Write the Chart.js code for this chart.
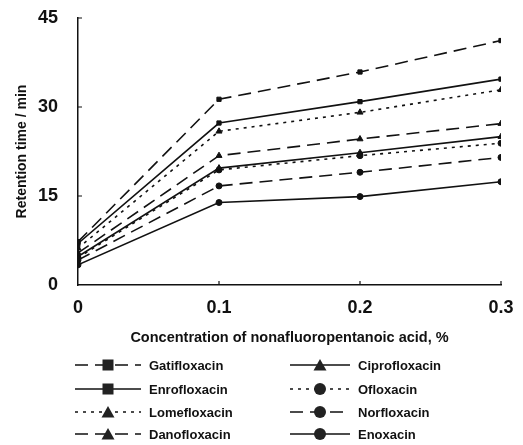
<!DOCTYPE html>
<html>
<head>
<meta charset="utf-8">
<script src="https://cdn.jsdelivr.net/npm/chart.js@4"></script>
<style>
  html, body { margin: 0; padding: 0; background: #fff; }
  #wrap { position: relative; width: 523px; height: 445px; }
  #legend { position: absolute; left: 0; top: 0; width: 523px; height: 445px; pointer-events: none;
    font-family: "Liberation Sans", Arial, sans-serif; font-weight: bold; font-size: 13px; color: #111; }
  .item { position: absolute; height: 20px; display: flex; align-items: center; }
  .item svg { display: block; }
  .item span { margin-left: 8px; }
</style>
</head>
<body>
<div id="wrap">
  <canvas id="chart" width="523" height="445"></canvas>
  <div id="legend"></div>
</div>
<script>
const concentrations = [0, 0.1, 0.2, 0.3];
const xTicks = [0, 0.1, 0.2, 0.3];
const yTicks = [0, 15, 30, 45];

const gatifloxacin = [7.3, 31.3, 35.9, 41.2];
const enrofloxacin = [7.0, 27.3, 30.9, 34.7];
const lomefloxacin = [6.2, 25.9, 29.1, 32.9];
const danofloxacin = [5.4, 21.8, 24.6, 27.2];
const ciprofloxacin = [4.8, 19.7, 22.3, 25.0];
const ofloxacin = [4.6, 19.4, 21.8, 23.9];
const norfloxacin = [4.2, 16.7, 19.0, 21.5];
const enoxacin = [3.4, 13.9, 14.9, 17.4];

const DASHED = [13, 7];
const DOTTED = [3, 5];
const SOLID = [];

function series(label, values, dash, point) {
  return {
    label,
    data: values.map((v, i) => ({ x: concentrations[i], y: v })),
    borderColor: '#111',
    backgroundColor: '#111',
    borderWidth: 1.6,
    borderDash: dash,
    pointStyle: point,
    pointRadius: point === 'triangle' ? 3.5 : 3,
    pointBorderWidth: 1,
    tension: 0,
  };
}

const datasets = [
  series('Gatifloxacin', gatifloxacin, DASHED, 'rect'),
  series('Enrofloxacin', enrofloxacin, SOLID, 'rect'),
  series('Lomefloxacin', lomefloxacin, DOTTED, 'triangle'),
  series('Danofloxacin', danofloxacin, DASHED, 'triangle'),
  series('Ciprofloxacin', ciprofloxacin, SOLID, 'triangle'),
  series('Ofloxacin', ofloxacin, DOTTED, 'circle'),
  series('Norfloxacin', norfloxacin, DASHED, 'circle'),
  series('Enoxacin', enoxacin, SOLID, 'circle'),
];

const boldFont = { family: '"Liberation Sans", Arial, sans-serif', weight: 'bold' };

// small tick marks pointing into the plot, like the original figure
const innerTicks = {
  id: 'innerTicks',
  afterDraw(chart) {
    const { ctx, chartArea, scales } = chart;
    ctx.save();
    ctx.strokeStyle = '#111';
    ctx.lineWidth = 1.2;
    ctx.beginPath();
    xTicks.slice(1).forEach(v => {
      const px = scales.x.getPixelForValue(v);
      ctx.moveTo(px, chartArea.bottom);
      ctx.lineTo(px, chartArea.bottom - 4);
    });
    yTicks.slice(1).forEach(v => {
      const py = scales.y.getPixelForValue(v);
      ctx.moveTo(chartArea.left, py);
      ctx.lineTo(chartArea.left + 4, py);
    });
    ctx.stroke();
    ctx.restore();
  }
};

// hidden outer tick marks only keep the label gap
const hiddenTicks = { display: true, drawOnChartArea: false, drawTicks: true, tickLength: 14, color: 'rgba(0,0,0,0)' };

const chart = new Chart(document.getElementById('chart'), {
  type: 'line',
  data: { datasets },
  options: {
    responsive: false,
    animation: false,
    layout: { padding: { left: 14, right: 22, top: 18, bottom: 98 } },
    plugins: { legend: { display: false }, tooltip: { enabled: false } },
    scales: {
      x: {
        type: 'linear',
        min: 0, max: 0.3,
        afterBuildTicks: axis => { axis.ticks = xTicks.map(v => ({ value: v })); },
        afterFit: axis => { axis.height = 62; },
        ticks: { color: '#111', font: { ...boldFont, size: 18 }, padding: 4, maxRotation: 0,
          callback: v => String(+v.toFixed(1)) },
        grid: { display: false },
        border: { color: '#111', width: 1.5 },
        title: { display: true, text: 'Concentration of nonafluoropentanoic acid, %', color: '#111',
          font: { ...boldFont, size: 14.5 }, padding: { top: 10, bottom: 0 } },
      },
      y: {
        min: 0, max: 45,
        afterBuildTicks: axis => { axis.ticks = yTicks.map(v => ({ value: v })); },
        afterFit: axis => { axis.width = 64; },
        ticks: { color: '#111', font: { ...boldFont, size: 18 }, padding: 6 },
        grid: hiddenTicks,
        border: { color: '#111', width: 1.5 },
        title: { display: true, text: 'Retention time / min', color: '#111',
          font: { ...boldFont, size: 14 }, padding: { top: 0, bottom: 8 } },
      }
    }
  },
  plugins: [innerTicks]
});

// legend: two columns, built from the datasets
const legendBox = document.getElementById('legend');
const colX = [[75, 66], [290, 60]];
const rowY = [365, 389, 412, 434];

function marker(style, cx, cy) {
  if (style === 'rect') return `<rect x="${cx - 5.5}" y="${cy - 5.5}" width="11" height="11" fill="#222"/>`;
  if (style === 'triangle') return `<polygon points="${cx},${cy - 6} ${cx + 6.5},${cy + 5.5} ${cx - 6.5},${cy + 5.5}" fill="#222"/>`;
  return `<circle cx="${cx}" cy="${cy}" r="6" fill="#222"/>`;
}

chart.data.datasets.forEach((ds, i) => {
  const col = Math.floor(i / 4), row = i % 4;
  const [x, w] = colX[col];
  const dash = ds.borderDash.length ? ds.borderDash.join(',') : 'none';
  const el = document.createElement('div');
  el.className = 'item';
  el.style.left = x + 'px';
  el.style.top = (rowY[row] - 10) + 'px';
  el.innerHTML = `<svg width="${w}" height="20"><line x1="0" y1="10" x2="${w}" y2="10" stroke="#111" stroke-width="1.6" stroke-dasharray="${dash}"/>${marker(ds.pointStyle, w / 2, 10)}</svg><span>${ds.label}</span>`;
  legendBox.appendChild(el);
});
</script>
</body>
</html>
